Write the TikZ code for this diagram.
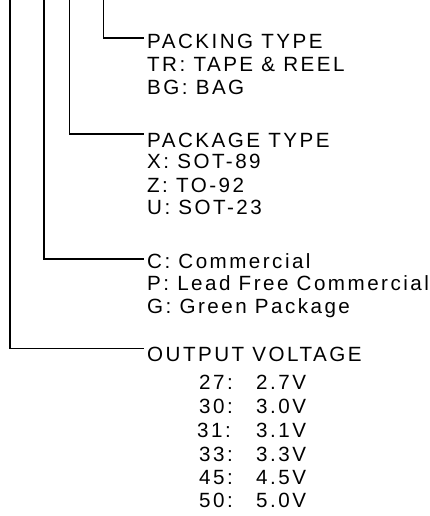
\documentclass[tikz,border=0pt]{standalone}
\usepackage{fontspec}
\setmainfont{Liberation Sans}[LetterSpace=12]
\begin{document}
\begin{tikzpicture}[x=1pt,y=-1pt,
  lbl/.style={anchor=base west,inner sep=0pt,font=\fontsize{20.6}{24}\selectfont},
  conn/.style={line width=1.7pt,line cap=butt,line join=miter}]
\useasboundingbox (0,0) rectangle (430,516);
% top ends of the four leads
\coordinate (ta) at (103.5,0);
\coordinate (tb) at (69.5,0);
\coordinate (tc) at (44,0);
\coordinate (td) at (10,0);
% packing type
\node[lbl] (pk)  at (147,49)   {PACKING TYPE};
\node[lbl] (pk1) at (147,71.5) {TR: TAPE \& REEL};
\node[lbl] (pk2) at (147,95)   {BG: BAG};
% package type
\node[lbl] (pg)  at (147,147)  {PACKAGE TYPE};
\node[lbl] (pg1) at (147,168)  {X: SOT-89};
\node[lbl] (pg2) at (147,192)  {Z: TO-92};
\node[lbl] (pg3) at (147,214)  {U: SOT-23};
% grade
\node[lbl] (gr1) at (147,268)  {C: Commercial};
\node[lbl] (gr2) at (147,290.5){P: Lead Free Commercial};
\node[lbl] (gr3) at (147,313.5){G: Green Package};
% output voltage
\node[lbl] (ov)  at (147,361.5){OUTPUT VOLTAGE};
\foreach \n/\a/\b/\y/\dx in {1/27/2.7V/389.5/0,2/30/3.0V/413.5/0,3/31/3.1V/437/-2,4/33/3.3V/461.5/0,5/45/4.5V/484.5/0,6/50/5.0V/507.5/0}{
  \node[lbl] (vk\n) at (199+\dx,\y) {\a:};
  \node[lbl] (vv\n) at (256,\y) {\b};
}
% connectors
\draw[conn] (ta) |- ([xshift=-3pt,yshift=11pt]pk.base west);
\draw[conn] (tb) |- ([xshift=-3pt,yshift=13pt]pg.base west);
\draw[conn] (tc) |- ([xshift=-3pt,yshift=9pt]gr1.base west);
\draw[conn] (td) |- ([xshift=-3pt,yshift=13pt]ov.base west);
\end{tikzpicture}
\end{document}
